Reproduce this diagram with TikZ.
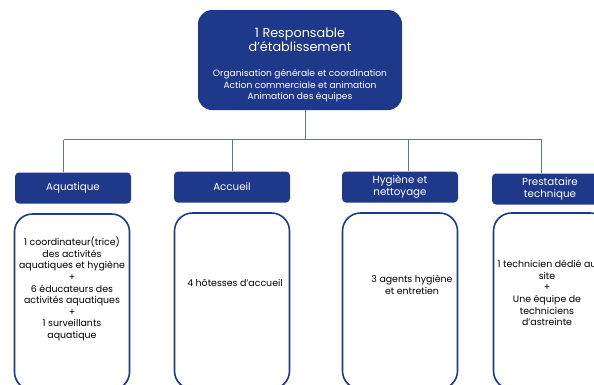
\documentclass[tikz,border=0pt]{standalone}
\usepackage{fontspec}
\setmainfont{Poppins}
\definecolor{navy}{RGB}{30,56,138}
\definecolor{linkline}{RGB}{96,116,160}

\begin{document}
\begin{tikzpicture}[
		x=1pt, y=-1pt,
		every node/.style={align=center, inner sep=0pt},
		head/.style={rectangle, rounded corners=4pt, fill=navy, text=white, minimum width=116pt, minimum height=31pt, font=\fontsize{10.3}{12}\selectfont},
		staff/.style={rectangle, rounded corners=18pt, draw=navy, line width=1.6pt, fill=white, minimum width=115pt, minimum height=176pt},
		staff_text/.style={font=\fontsize{9.4}{11.6}\selectfont},
		link/.style={draw=linkline, line width=0.8pt}
	]
  \clip (0,0) rectangle (594,384);
  \node (resp) [rectangle, rounded corners=14pt, fill=navy, minimum width=204pt, minimum height=100pt] at (300,60) {};
  \node (resp_title) [text=white, font=\fontsize{12.8}{14}\selectfont] at (300,40) {1 Responsable\\d'établissement};
  \node (resp_tasks) [text=white, font=\fontsize{9.1}{11.5}\selectfont] at (300,86) {Organisation générale et coordination\\Action commerciale et animation\\Animation des équipes};
  \coordinate (hub) at (305,139.5);
  \coordinate (aqua_drop) at (63.5,139.5);
  \coordinate (accueil_drop) at (232,139.5);
  \coordinate (hygiene_drop) at (408,139.5);
  \coordinate (presta_drop) at (541.5,139.5);
  \node (aqua) [head] at (73,188) {Aquatique};
  \node (accueil) [head] at (232,187) {Accueil};
  \node (hygiene) [head] at (400,187) {Hygiène et\\nettoyage};
  \node (presta) [head] at (550,189) {Prestataire\\technique};
  \node (aqua_box) [staff] at (72,302) {};
  \node (accueil_box) [staff] at (232,301) {};
  \node (hygiene_box) [staff] at (400,301) {};
  \node (presta_box) [staff] at (551,301) {};
  \node (aqua_staff) [staff_text] at (72,289) {1 coordinateur(trice)\\des activités\\aquatiques et hygiène\\+\\6 éducateurs des\\activités aquatiques\\+\\1 surveillants\\aquatique};
  \node (accueil_staff) [staff_text] at (235,283) {4 hôtesses d'accueil};
  \node (hygiene_staff) [staff_text] at (412,285) {3 agents hygiène\\et entretien};
  \node (presta_staff) [staff_text] at (547,293) {1 technicien dédié au\\site\\+\\Une équipe de\\techniciens\\d'astreinte};
  \draw [link] (resp.south -| hub) -- (hub);
  \draw [link] (aqua_drop) -- (presta_drop);
  \draw [link] (aqua_drop) -- (aqua_drop |- aqua.north);
  \draw [link] (accueil_drop) -- (accueil_drop |- accueil.north);
  \draw [link] (hygiene_drop) -- (hygiene_drop |- hygiene.north);
  \draw [link] (presta_drop) -- (presta_drop |- presta.north);
\end{tikzpicture}
\end{document}
